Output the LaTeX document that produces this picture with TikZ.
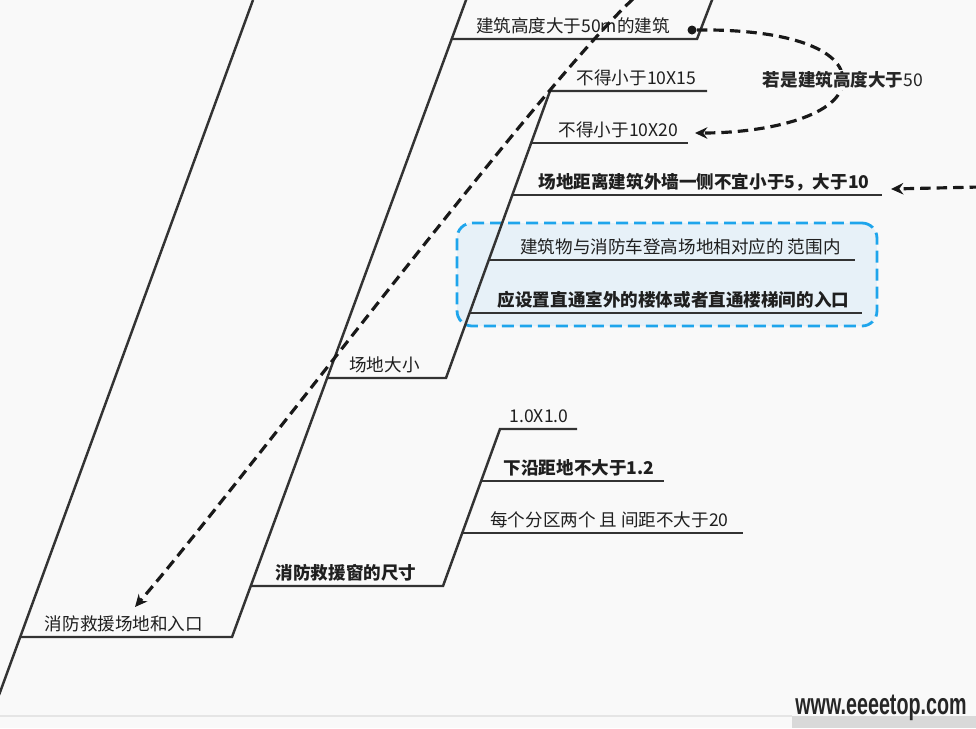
\documentclass[tikz,border=0pt]{standalone}
\usepackage{fontspec}
\setmainfont{Noto Sans CJK SC}
\newfontfamily\markfont{Liberation Sans}
\usetikzlibrary{positioning,arrows.meta,calc}
\definecolor{paper}{HTML}{F9F9F9}
\definecolor{branchgray}{HTML}{333333}
\definecolor{boxblue}{HTML}{1EA5EC}
\definecolor{boxfill}{HTML}{E7F1F8}

\begin{document}
\begin{tikzpicture}[x=0.02cm, y=-0.02cm,
    topic/.style={anchor=base, yshift=0.125cm, inner sep=0pt, text=black!88, font=\fontsize{10pt}{12pt}\selectfont},
    strong/.style={topic, font=\fontsize{10pt}{12pt}\selectfont\bfseries},
    branch/.style={draw=branchgray, line width=1.4pt},
    link/.style={draw=black!90, line width=1.8pt, dash pattern=on 0.21cm off 0.12cm, -{Stealth[length=7pt,width=6.5pt]}},
    focusbox/.style={draw=boxblue, fill=boxfill, line width=1.6pt, dash pattern=on 0.24cm off 0.12cm, rounded corners=0.3cm}
  ]
  \useasboundingbox (0,0) rectangle (976,728);
  \fill[paper] (0,0) rectangle (976,728);

  % highlighted group
  \node[focusbox, minimum width=8.4cm, minimum height=2.06cm] (focus) at (667,274.5) {};

  % corners of the branches
  \coordinate (trunkA-top) at (253,0);
  \coordinate (trunkA-bot) at (-1,695);
  \coordinate (entry-l) at (19.5,637);
  \coordinate (entry-r) at (232,637);
  \coordinate (trunkB-top) at (466.4,-1);
  \coordinate (win-l) at (250.7,586);
  \coordinate (win-r) at (443,586);
  \coordinate (site-l) at (327.1,378);
  \coordinate (site-r) at (446,378);
  \coordinate (tall-l) at (451.6,39);
  \coordinate (tall-r) at (697,39);
  \coordinate (tall-up) at (712.4,-1);
  \coordinate (size-l) at (500,429);
  \coordinate (size-r) at (577,429);
  \coordinate (sill-l) at (481.1,481);
  \coordinate (sill-r) at (664,481);
  \coordinate (pair-l) at (462.2,533);
  \coordinate (pair-r) at (743,533);
  \coordinate (min15-l) at (550,91);
  \coordinate (min15-r) at (707,91);
  \coordinate (min20-l) at (531.2,143);
  \coordinate (min20-r) at (688,143);
  \coordinate (gap-l) at (512.3,195);
  \coordinate (gap-r) at (882,195);
  \coordinate (range-l) at (488.8,260);
  \coordinate (range-r) at (855,260);
  \coordinate (door-l) at (469.6,313);
  \coordinate (door-r) at (862,313);

  \draw[branch] (trunkA-top) -- (trunkA-bot);
  \draw[branch] (entry-l) -- (entry-r) -- (trunkB-top);
  \draw[branch] (tall-l) -- (tall-r) -- (tall-up);
  \draw[branch] (win-l) -- (win-r) -- (size-l) -- (size-r);
  \draw[branch] (sill-l) -- (sill-r);
  \draw[branch] (pair-l) -- (pair-r);
  \draw[branch] (site-l) -- (site-r) -- (min15-l) -- (min15-r);
  \draw[branch] (min20-l) -- (min20-r);
  \draw[branch] (gap-l) -- (gap-r);
  \draw[branch] (range-l) -- (range-r);
  \draw[branch] (door-l) -- (door-r);

  % topics
  \node[topic] (tall) at (573,39) {建筑高度大于50m的建筑};
  \node[topic] (min15) at (636.5,91) {不得小于10X15};
  \node[topic] (min20) at (618.5,143) {不得小于10X20};
  \node[strong] (gap) at (704,195) {场地距离建筑外墙一侧不宜小于5，大于10};
  \node[topic] (range) at (680.5,260) {建筑物与消防车登高场地相对应的 范围内};
  \node[strong] (door) at (673.5,313) {应设置直通室外的楼体或者直通楼梯间的入口};
  \node[topic] (site) at (384.5,378) {场地大小};
  \node[topic] (size) at (539,429) {1.0X1.0};
  \node[strong] (sill) at (579,481) {下沿距地不大于1.2};
  \node[topic] (pair) at (609.5,533) {每个分区两个 且 间距不大于20};
  \node[strong] (win) at (346,586) {消防救援窗的尺寸};
  \node[topic] (entry) at (124,637) {消防救援场地和入口};

  % relations
  \node[circle, fill=black!90, inner sep=0pt, minimum size=0.18cm] (tall-dot) at (692,30) {};
  \coordinate (cond-pt) at (843,80);
  \coordinate (min20-tip) at (695,133);
  \draw[link] (tall-dot) .. controls (790,29) and (843,50) .. (cond-pt)
    .. controls (843,115) and (770,133) .. (min20-tip);
  \node[fill=paper, inner sep=1pt, text=black!85, font=\fontsize{10pt}{12pt}\selectfont] (cond) at (cond-pt) {\textbf{若是建筑高度大于}50};

  \coordinate (gap-src) at (980,187);
  \coordinate (gap-tip) at (891,189);
  \draw[link] (gap-src) -- (gap-tip);

  \coordinate (far-src) at (633,-1);
  \coordinate (entry-tip) at (135,607);
  \draw[link] (far-src) .. controls (540,85) and (240,485) .. (entry-tip);

  % footer
  \draw[black!10, line width=0.6pt] (0,716) -- (792,716);
  \fill[black!15] (792,716) rectangle (976,728);
  \node[text=black!85, inner sep=0pt, xscale=0.66, font=\markfont\fontsize{17pt}{17pt}\selectfont\bfseries] (mark) at (881,708) {www.eeeetop.com};
\end{tikzpicture}
\end{document}
